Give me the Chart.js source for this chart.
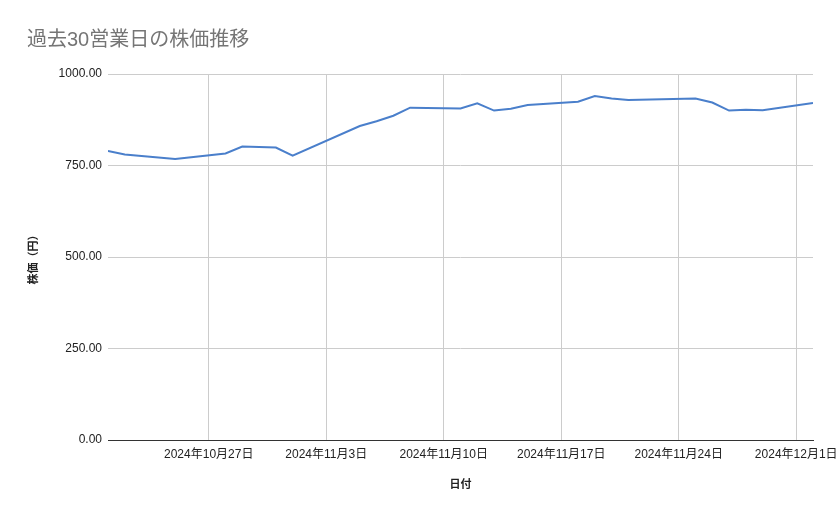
<!DOCTYPE html>
<html>
<head>
<meta charset="utf-8">
<script src="https://cdn.jsdelivr.net/npm/chart.js@4"></script>
<style>
html,body{margin:0;padding:0;background:#fff;}
#wrap{width:839px;height:519px;position:relative;}
</style>
</head>
<body>
<div id="wrap"><canvas id="c" width="839" height="519"></canvas></div>
<script>
const chartTitle = "過去30営業日の株価推移";
const xTitle = "日付";
const yTitle = "株価（円）";
const dates = ["2024-10-21","2024-10-22","2024-10-25","2024-10-28","2024-10-29","2024-10-31","2024-11-01",
  "2024-11-05","2024-11-06","2024-11-07","2024-11-08","2024-11-11","2024-11-12","2024-11-13","2024-11-14",
  "2024-11-15","2024-11-18","2024-11-19","2024-11-20","2024-11-21","2024-11-25","2024-11-26","2024-11-27",
  "2024-11-28","2024-11-29","2024-12-02"];
const prices = [790,780,768,783,802,799,777,858,871,886,908,906,920,900,905,915,924,940,933,929,933,922,900,902,901,921];
const xTickDates = ["2024-10-27","2024-11-03","2024-11-10","2024-11-17","2024-11-24","2024-12-01"];
const xRange = ["2024-10-21","2024-12-02"];
const yTicks = [0,250,500,750,1000];

const DAY = 86400000;
function dayNum(s){const p=s.split("-").map(Number);return Date.UTC(p[0],p[1]-1,p[2])/DAY;}
function fmtDay(n){const d=new Date(n*DAY);return d.getUTCFullYear()+"年"+(d.getUTCMonth()+1)+"月"+d.getUTCDate()+"日";}

const FONT = "'Liberation Sans', Arial, 'Noto Sans CJK JP', sans-serif";
const points = dates.map((d,i)=>({x:dayNum(d),y:prices[i]}));

new Chart(document.getElementById('c'),{
  type:'line',
  data:{datasets:[{data:points,borderColor:'#4a7fcb',borderWidth:2,pointRadius:0,tension:0,fill:false}]},
  options:{
    responsive:false,animation:false,
    layout:{padding:{left:27,right:26,top:0,bottom:0}},
    plugins:{
      legend:{display:false},tooltip:{enabled:false},
      title:{display:true,text:chartTitle,align:'start',color:'#757575',
        font:{family:FONT,size:20,weight:'normal'},padding:{top:28,bottom:22}}
    },
    scales:{
      x:{type:'linear',min:dayNum(xRange[0]),max:dayNum(xRange[1]),
        afterBuildTicks:(s)=>{s.ticks=xTickDates.map(d=>({value:dayNum(d)}));},
        afterFit:(s)=>{s.height=79;s.paddingLeft=0;s.paddingRight=0;},
        ticks:{callback:(v)=>fmtDay(v),color:'#222',font:{family:FONT,size:12},padding:7,maxRotation:0,autoSkip:false},
        grid:{color:'#cccccc',drawTicks:false},
        border:{color:'#333333',width:1},
        title:{display:true,text:xTitle,color:'#222',font:{family:FONT,size:11,weight:'bold'},padding:{top:0,bottom:27}}
      },
      y:{min:0,max:1000,
        afterBuildTicks:(s)=>{s.ticks=yTicks.map(v=>({value:v}));},
        afterFit:(s)=>{s.width=81;},
        ticks:{callback:(v)=>Number(v).toFixed(2),color:'#222',font:{family:FONT,size:12},padding:6},
        grid:{color:'#cccccc',drawTicks:false},
        border:{display:false},
        title:{display:true,text:yTitle,color:'#222',font:{family:FONT,size:11,weight:'bold'},padding:{top:0,bottom:0}}
      }
    }
  }
});
</script>
</body>
</html>
